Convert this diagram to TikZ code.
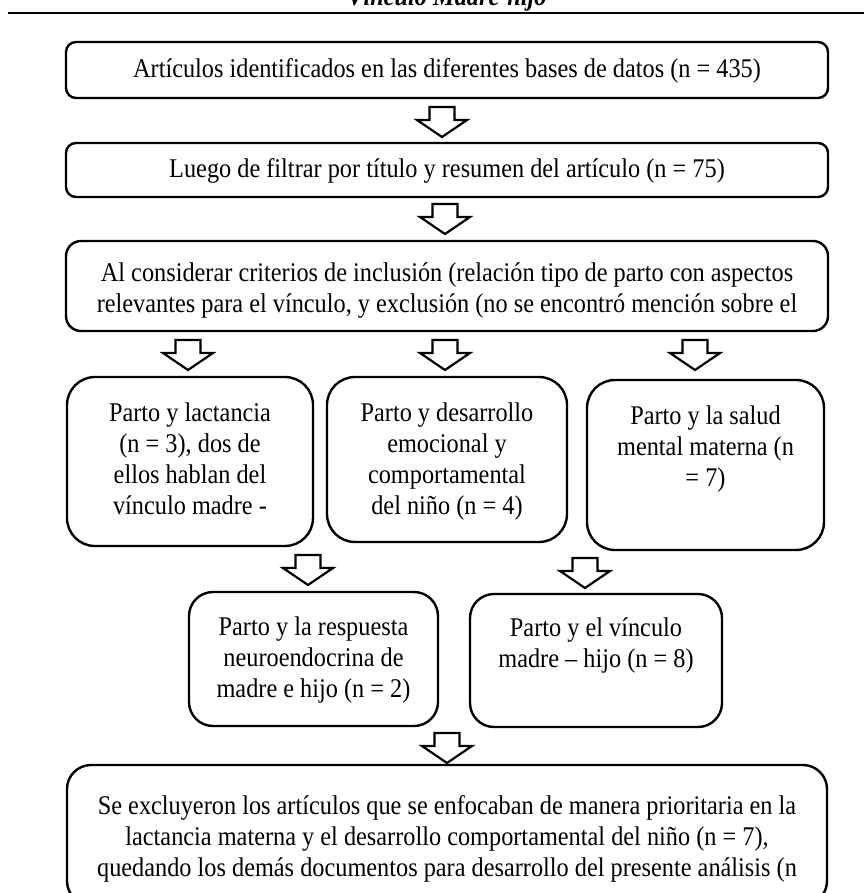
\documentclass[tikz,border=0pt]{standalone}
\usepackage{fontspec}
\setmainfont{Liberation Serif}[FakeStretch=0.9]
\begin{document}
\begin{tikzpicture}[x=1pt,y=-1pt,
  box/.style={draw=black, line width=2.4pt, rounded corners=#1, inner sep=0pt},
  txt/.style={font=\fontsize{27}{31}\selectfont, align=center, inner sep=0pt, anchor=base},
  downblock/.pic={\draw[line width=2.2pt, line join=miter, fill=white]
     (-12.5,0) -- (12.5,0) -- (12.5,13) -- (25,13) -- (0,30) -- (-25,13) -- (-12.5,13) -- cycle;}]
\useasboundingbox (0,0) rectangle (864,893);
\clip (0,0) rectangle (864,893);
\fill[white] (0,0) rectangle (864,893);
% title (cut off at the top, as in the reference)
\node[font=\fontsize{27}{31}\selectfont\bfseries\itshape, inner sep=0pt, anchor=base] (title) at (447,6) {Vínculo Madre-hijo};
\coordinate (rl) at (8,13);
\coordinate (rr) at (864,13);
\draw[line width=2.6pt] (rl) -- (rr);
% boxes
\node[box=10pt, minimum width=762pt, minimum height=56pt] (b1) at (447,70) {};
\node[box=10pt, minimum width=762pt, minimum height=54pt] (b2) at (447,170) {};
\node[box=15pt, minimum width=762pt, minimum height=90pt] (b3) at (447,286) {};
\node[box=28pt, minimum width=246pt, minimum height=169pt] (b4a) at (190,461.5) {};
\node[box=28pt, minimum width=240pt, minimum height=165pt] (b4b) at (447,459.5) {};
\node[box=28pt, minimum width=237pt, minimum height=170pt] (b4c) at (705.5,465) {};
\node[box=24pt, minimum width=249pt, minimum height=134pt] (b5a) at (313.5,659) {};
\node[box=24pt, minimum width=252pt, minimum height=133pt] (b5b) at (596,660.5) {};
\node[box=24pt, minimum width=760pt, minimum height=140pt] (b6) at (447,835) {};
% texts (anchor = baseline of the last line)
\node[txt] (t1) at (447,78) {Artículos identificados en las diferentes bases de datos (n = 435)};
\node[txt] (t2) at (447,178) {Luego de filtrar por título y resumen del artículo (n = 75)};
\node[txt] (t3) at (447,312) {Al considerar criterios de inclusión (relación tipo de parto con aspectos\\relevantes para el vínculo, y exclusión (no se encontró mención sobre el};
\node[txt] (t4a) at (190,514) {Parto y lactancia\\(n = 3), dos de\\ellos hablan del\\vínculo madre -};
\node[txt] (t4b) at (447,514) {Parto y desarrollo\\emocional y\\comportamental\\del niño (n = 4)};
\node[txt] (t4c) at (705.5,486) {Parto y la salud\\mental materna (n\\= 7)};
\node[txt] (t5a) at (313.5,697) {Parto y la respuesta\\neuroendocrina de\\madre e hijo (n = 2)};
\node[txt] (t5b) at (596,667) {Parto y el vínculo\\madre – hijo (n = 8)};
\node[txt] (t6) at (447,876) {Se excluyeron los artículos que se enfocaban de manera prioritaria en la\\lactancia materna y el desarrollo comportamental del niño (n = 7),\\quedando los demás documentos para desarrollo del presente análisis (n};
% block arrows
\pic (a1) at (442,107) {downblock};
\pic (a2) at (445,204) {downblock};
\pic (a3a) at (188,340) {downblock};
\pic (a3b) at (445,340) {downblock};
\pic (a3c) at (695,340) {downblock};
\pic (a4a) at (308,555) {downblock};
\pic (a4b) at (585,558) {downblock};
\pic (a5) at (447,733) {downblock};
\end{tikzpicture}
\end{document}
